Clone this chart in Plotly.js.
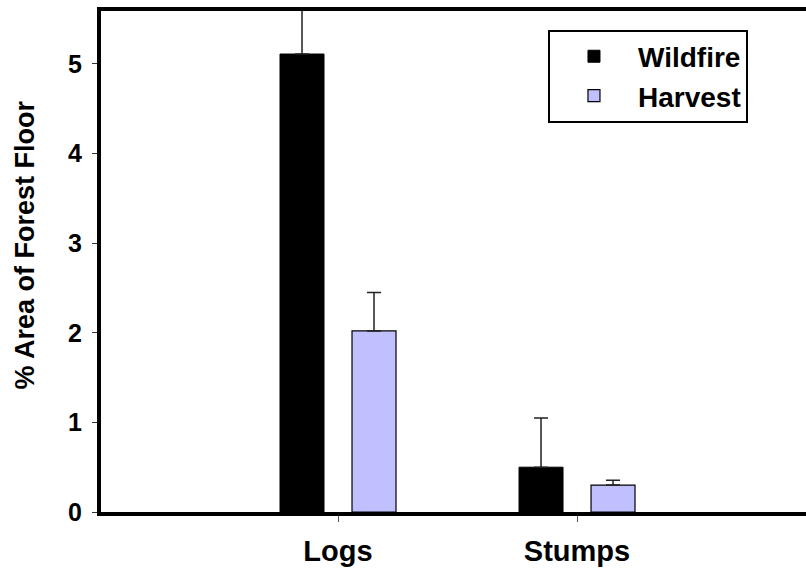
<!DOCTYPE html>
<html>
<head>
<meta charset="utf-8">
<script src="https://cdn.plot.ly/plotly-3.0.1.min.js"></script>
<style>html,body{margin:0;padding:0;background:#fff;overflow:hidden}</style>
</head>
<body>
<div id="chart" style="width:806px;height:574px"></div>
<script>
const categories = ["Logs", "Stumps"];
const wildfireValues = [5.11, 0.50];
const wildfireErrors = [0.9, 0.55];
const harvestValues = [2.02, 0.30];
const harvestErrors = [0.43, 0.055];
const yTickValues = [0, 1, 2, 3, 4, 5];

const FONT = "'Liberation Sans', Arial, sans-serif";

const traces = [
  {
    type: "bar", name: "Wildfire", x: categories, y: wildfireValues,
    marker: {color: "#000000", line: {color: "#000000", width: 1}},
    error_y: {type: "data", array: wildfireErrors, symmetric: false, arrayminus: [0, 0],
              color: "#222222", thickness: 1.5, width: 7}
  },
  {
    type: "bar", name: "Harvest", x: categories, y: harvestValues,
    marker: {color: "#C0C0FF", line: {color: "#000000", width: 1.2}},
    error_y: {type: "data", array: harvestErrors, symmetric: false, arrayminus: [0, 0],
              color: "#222222", thickness: 1.5, width: 7}
  }
];

const layout = {
  width: 806, height: 574,
  margin: {l: 101, r: 0, t: 11, b: 62, pad: 0},
  paper_bgcolor: "#ffffff", plot_bgcolor: "#ffffff",
  barmode: "group", bargap: 0.3975, bargroupgap: 0.389,
  showlegend: true,
  font: {family: FONT, color: "#000000"},
  xaxis: {
    type: "category", range: [-0.9916, 1.958],
    showline: true, linecolor: "#000000", linewidth: 4, mirror: true,
    ticks: "outside", ticklen: 6, tickwidth: 1, tickcolor: "#555555",
    tickfont: {family: FONT, size: 29, weight: 700, color: "#000000"},
    ticklabelstandoff: 4,
    showgrid: false, zeroline: false, fixedrange: true
  },
  yaxis: {
    range: [0, 5.59],
    tickvals: yTickValues, ticktext: yTickValues.map(String),
    showline: true, linecolor: "#000000", linewidth: 4, mirror: false,
    ticks: "outside", ticklen: 5, tickwidth: 1, tickcolor: "#333333",
    tickfont: {family: FONT, size: 25, weight: 700, color: "#000000"},
    ticklabelstandoff: 5,
    showgrid: false, zeroline: false, fixedrange: true
  },
  legend: {
    x: 0.634, y: 0.963, xanchor: "left", yanchor: "top",
    bgcolor: "#ffffff", bordercolor: "#000000", borderwidth: 2,
    font: {family: FONT, size: 28, weight: 700, color: "#000000"},
    itemwidth: 78, entrywidth: 230, entrywidthmode: "pixels"
  },
  annotations: [{
    text: "% Area of Forest Floor", xref: "paper", yref: "paper",
    x: -0.1078, y: 0.532, xanchor: "center", yanchor: "middle",
    textangle: -90, showarrow: false,
    font: {family: FONT, size: 27, weight: 700, color: "#000000"}
  }]
};

Plotly.newPlot("chart", traces, layout, {displayModeBar: false, staticPlot: true});
</script>
</body>
</html>
